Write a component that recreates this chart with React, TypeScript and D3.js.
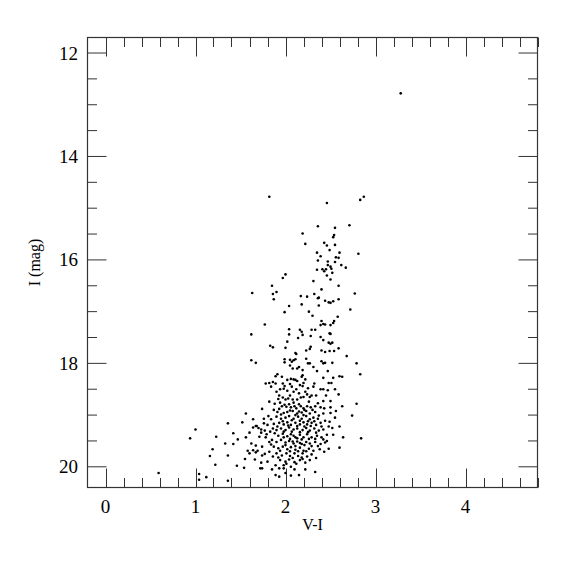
import React, { useEffect, useRef } from "react";
import * as d3 from "d3";

// [V-I, I] pairs
const giantBranch: [number, number][] = [
  [3.28, 12.78], [1.82, 14.78], [2.46, 14.9], [2.83, 14.84], [2.87, 14.78], [2.36, 15.35], [2.55, 15.38],
  [2.71, 15.33], [2.19, 15.49], [2.54, 15.52], [2.53, 15.56], [2.22, 15.69], [2.43, 15.67], [2.46, 15.72],
  [2.55, 15.71], [2.49, 15.81], [2.35, 15.86], [2.6, 15.86], [2.81, 15.88], [2.39, 15.93], [2.56, 15.95],
  [2.59, 15.96], [2.36, 16.01], [2.47, 16.03], [2.55, 16.04], [2.47, 16.1], [2.5, 16.13], [2.51, 16.17],
  [2.62, 16.1], [2.67, 16.15], [2.35, 16.19], [2.41, 16.18], [2.45, 16.18], [2.43, 16.22], [2.52, 16.25],
  [2.46, 16.3], [2.0, 16.28], [1.97, 16.35], [2.5, 16.38], [2.31, 16.41], [1.85, 16.5], [2.59, 16.5],
  [2.4, 16.57], [1.9, 16.62], [1.86, 16.66], [1.63, 16.64], [2.17, 16.7], [2.24, 16.71], [2.32, 16.66],
  [2.37, 16.73], [2.36, 16.74], [2.77, 16.65], [1.87, 16.76], [2.59, 16.76], [2.44, 16.79], [2.48, 16.82],
  [2.5, 16.83], [2.53, 16.8], [2.04, 16.89], [2.18, 16.86], [2.37, 16.88], [2.72, 16.96],
];

const midBranch: [number, number][] = [
  [1.99, 17.01], [2.26, 17.0], [2.3, 17.08], [2.58, 17.1], [2.4, 17.18], [2.42, 17.24], [2.44, 17.25],
  [2.5, 17.26], [2.53, 17.22], [2.54, 17.18], [2.39, 17.26], [2.04, 17.34], [2.04, 17.44], [2.16, 17.35],
  [2.18, 17.39], [2.19, 17.45], [2.29, 17.35], [2.33, 17.35], [2.49, 17.42], [2.5, 17.43], [2.28, 17.47],
  [2.39, 17.49], [2.02, 17.58], [2.14, 17.51], [2.42, 17.55], [2.48, 17.6], [2.5, 17.62], [2.52, 17.6],
  [1.86, 17.69], [2.0, 17.7], [2.23, 17.75], [2.27, 17.72], [2.28, 17.68], [2.4, 17.75], [2.44, 17.78],
  [2.49, 17.76], [2.54, 17.76], [2.59, 17.71], [2.11, 17.8], [2.12, 17.82], [2.68, 17.86], [2.79, 18.0],
  [2.83, 18.21], [1.99, 17.92], [1.99, 17.98], [2.05, 17.93], [2.07, 17.97], [2.09, 17.94], [2.11, 17.92],
  [2.05, 18.04], [2.08, 18.1], [2.13, 18.1], [2.15, 18.07], [2.23, 17.91], [2.25, 18.0], [2.27, 18.0],
  [2.31, 18.07], [2.35, 18.15], [2.4, 17.96], [2.42, 18.0], [2.44, 17.99], [2.47, 18.15], [2.52, 17.99],
  [2.19, 18.13], [2.53, 18.28], [2.6, 18.25], [2.63, 18.26], [2.42, 18.28], [1.89, 18.25], [1.91, 18.21],
  [1.96, 18.26], [2.02, 18.32], [2.06, 18.3], [2.09, 18.31], [2.11, 18.32], [2.13, 18.34], [2.18, 18.26],
  [2.19, 18.23], [2.22, 18.31],
];

const blueStars: [number, number][] = [
  [1.77, 17.25], [1.62, 17.44], [1.83, 17.66], [1.62, 17.94], [1.67, 17.99], [1.78, 18.39], [1.82, 18.38],
  [1.82, 18.74], [1.74, 18.88], [1.56, 18.97], [1.81, 19.02], [1.76, 19.07], [1.36, 19.16], [1.52, 19.14],
  [1.64, 19.08], [1.8, 19.19], [1.76, 19.16], [1.67, 19.21], [1.68, 19.21], [1.64, 19.24], [1.7, 19.25],
  [1.73, 19.28], [1.77, 19.3], [1.0, 19.28], [0.94, 19.45], [1.42, 19.35], [1.6, 19.34], [1.73, 19.34],
  [1.79, 19.37], [1.23, 19.42], [1.56, 19.43], [1.71, 19.42], [1.78, 19.43], [1.47, 19.47], [1.82, 19.52],
  [1.33, 19.55], [1.42, 19.56], [1.62, 19.55], [1.67, 19.59], [1.74, 19.61], [1.19, 19.66], [1.58, 19.69],
  [1.64, 19.68], [1.69, 19.69], [1.67, 19.72], [1.6, 19.74], [1.82, 19.71], [1.77, 19.75], [1.16, 19.79],
  [1.36, 19.78], [1.74, 19.78], [1.55, 19.85], [1.66, 19.86], [1.22, 19.96], [1.73, 19.92], [1.46, 19.98],
  [1.54, 20.02], [1.72, 20.03], [1.74, 20.03], [1.04, 20.14], [1.04, 20.25], [1.12, 20.2], [1.36, 20.27],
  [0.59, 20.12],
];

const clump: [number, number][] = [
  [1.86, 18.36], [1.89, 18.39], [1.97, 18.39], [1.99, 18.44], [2.05, 18.4], [2.16, 18.42], [2.19, 18.44],
  [2.31, 18.45], [2.39, 18.5], [2.42, 18.5], [2.47, 18.52], [2.48, 18.38], [2.51, 18.38], [1.98, 18.49],
  [2.02, 18.53], [2.09, 18.55], [2.12, 18.5], [1.9, 18.55], [1.94, 18.5], [2.22, 18.55], [2.24, 18.6],
  [2.2, 18.65], [2.27, 18.65], [2.29, 18.62], [2.59, 18.6], [1.97, 18.66], [2.0, 18.7], [2.03, 18.68],
  [2.08, 18.7], [2.13, 18.7], [2.42, 18.73], [2.5, 18.73], [2.63, 18.83], [2.79, 18.78], [1.88, 18.78],
  [1.94, 18.76], [1.96, 18.83], [2.01, 18.84], [2.04, 18.79], [2.06, 18.85], [2.1, 18.83], [2.12, 18.87],
  [2.17, 18.83], [2.2, 18.87], [2.24, 18.83], [2.28, 18.85], [2.33, 18.83], [2.39, 18.85], [2.43, 18.87],
  [2.5, 18.85], [1.87, 18.9], [1.91, 18.94], [1.98, 18.96], [2.02, 18.94], [2.08, 18.92], [2.13, 18.97],
  [2.18, 18.95], [2.23, 18.92], [2.27, 18.97], [2.33, 18.94], [2.42, 18.97], [2.5, 18.96], [2.74, 19.01],
  [1.9, 19.03], [1.95, 19.07], [2.0, 19.05], [2.04, 19.02], [2.09, 19.07], [2.14, 19.03], [2.18, 19.07],
  [2.23, 19.02], [2.27, 19.08], [2.31, 19.05], [2.36, 19.07], [2.44, 19.11], [2.49, 19.13], [1.84, 19.08],
  [1.87, 19.17], [1.93, 19.15], [1.98, 19.18], [2.02, 19.14], [2.06, 19.19], [2.11, 19.15], [2.16, 19.18],
  [2.2, 19.14], [2.24, 19.18], [2.29, 19.15], [2.34, 19.19], [2.39, 19.15], [2.48, 19.22], [2.6, 19.22],
  [1.86, 19.26], [1.9, 19.29], [1.95, 19.26], [2.0, 19.29], [2.04, 19.24], [2.09, 19.28], [2.13, 19.26],
  [2.19, 19.29], [2.23, 19.25], [2.27, 19.3], [2.32, 19.26], [2.37, 19.3], [2.42, 19.28], [2.53, 19.38],
  [2.64, 19.43], [2.84, 19.45], [1.88, 19.35], [1.92, 19.4], [1.97, 19.36], [2.02, 19.41], [2.06, 19.37],
  [2.11, 19.43], [2.16, 19.38], [2.2, 19.43], [2.24, 19.37], [2.29, 19.43], [2.35, 19.4], [2.4, 19.43],
  [2.46, 19.38], [1.85, 19.48], [1.9, 19.52], [1.95, 19.48], [2.0, 19.53], [2.04, 19.5], [2.09, 19.55],
  [2.13, 19.51], [2.18, 19.56], [2.23, 19.52], [2.27, 19.55], [2.33, 19.52], [2.39, 19.56], [2.44, 19.53],
  [2.6, 19.63], [1.87, 19.61], [1.92, 19.64], [1.97, 19.61], [2.02, 19.66], [2.06, 19.62], [2.11, 19.67],
  [2.16, 19.63], [2.2, 19.69], [2.26, 19.65], [2.31, 19.69], [2.38, 19.66], [2.43, 19.71], [1.9, 19.74],
  [1.96, 19.78], [2.01, 19.74], [2.05, 19.79], [2.1, 19.74], [2.14, 19.79], [2.19, 19.74], [2.24, 19.8],
  [2.29, 19.76], [1.94, 19.87], [2.0, 19.9], [2.04, 19.86], [2.1, 19.91], [2.16, 19.87], [2.27, 19.87],
  [1.98, 19.97], [2.01, 19.94], [2.12, 19.94], [1.89, 19.97], [1.93, 20.03], [1.98, 20.03], [2.0, 20.12],
  [1.89, 20.16], [1.93, 20.19], [2.15, 20.16], [2.33, 20.1],
];

// the densest part of the clump, read between the rows above
const clumpCore: [number, number][] = [
  [2.07, 18.45], [2.25, 18.48], [2.15, 18.58], [2.34, 18.62], [2.05, 18.62], [2.17, 18.66], [1.92, 18.69],
  [2.26, 18.74], [2.09, 18.76], [2.36, 18.77], [2.15, 18.79], [1.99, 18.8], [2.21, 18.9], [2.05, 18.91],
  [2.15, 18.93], [2.3, 18.9], [1.95, 18.99], [2.11, 19.0], [2.2, 19.0], [2.37, 19.01], [2.07, 19.1],
  [2.16, 19.11], [2.25, 19.12], [1.97, 19.12], [2.32, 19.12], [2.03, 19.2], [2.13, 19.21], [2.21, 19.22],
  [2.28, 19.21], [2.4, 19.22], [1.91, 19.22], [2.07, 19.32], [2.16, 19.33], [2.25, 19.33], [1.98, 19.32],
  [2.34, 19.34], [2.09, 19.4], [2.18, 19.47], [2.13, 19.45], [2.26, 19.46], [2.05, 19.46], [1.98, 19.43],
  [2.33, 19.46], [2.42, 19.47], [2.08, 19.51], [2.16, 19.54], [2.21, 19.58], [2.11, 19.6], [2.0, 19.58],
  [2.29, 19.6], [2.36, 19.6], [2.05, 19.7], [2.14, 19.7], [2.23, 19.7], [1.94, 19.69], [2.18, 19.82],
  [2.08, 19.83], [2.22, 19.92], [2.06, 20.0], [2.19, 19.85], [1.92, 19.82], [2.34, 19.83], [2.46, 19.5],
  [2.48, 19.65], [2.52, 19.25], [2.55, 19.05], [2.56, 18.92], [2.45, 18.62], [2.55, 18.5], [2.32, 18.39],
  [2.2, 18.38], [1.93, 18.62], [1.84, 18.45], [1.93, 18.88], [1.83, 19.32], [1.84, 19.57], [1.86, 19.8],
  [1.8, 19.9], [1.85, 20.05], [2.1, 20.05], [2.22, 20.05], [2.06, 20.17],
];

const xTicks = [0, 1, 2, 3, 4];
const yTicks = [12, 14, 16, 18, 20];

const W = 575;
const H = 575;
const frame = { left: 87.5, right: 537.5, top: 37.5, bottom: 487.5 };

export default function App() {
  const ref = useRef<SVGSVGElement>(null);

  useEffect(() => {
    const svg = d3.select(ref.current);
    svg.selectAll("*").remove();

    const x = d3.scaleLinear().domain([-0.2, 4.8]).range([frame.left, frame.right]);
    const y = d3.scaleLinear().domain([11.7, 20.4]).range([frame.top, frame.bottom]);

    const ink = "#333";
    const font = "'Liberation Serif', 'DejaVu Serif', serif";

    // minor + major ticks on all four sides, pointing inwards
    const xMinor = d3.range(0, 4.81, 0.2).map((v) => +v.toFixed(1));
    const yMinor = d3.range(12, 20.41, 0.5);
    const ticks = svg.append("g").attr("stroke", ink).attr("stroke-width", 1);

    xMinor.forEach((v) => {
      const len = xTicks.includes(v) ? 19 : 9.5;
      const px = Math.round(x(v)) + 0.5;
      ticks.append("line").attr("x1", px).attr("x2", px).attr("y1", frame.bottom).attr("y2", frame.bottom - len);
      ticks.append("line").attr("x1", px).attr("x2", px).attr("y1", frame.top).attr("y2", frame.top + len);
    });
    yMinor.forEach((v) => {
      const len = yTicks.includes(v) ? 19 : 9.5;
      ticks.append("line").attr("x1", frame.left).attr("x2", frame.left + len).attr("y1", y(v)).attr("y2", y(v));
      ticks.append("line").attr("x1", frame.right).attr("x2", frame.right - len).attr("y1", y(v)).attr("y2", y(v));
    });

    svg
      .append("rect")
      .attr("x", frame.left)
      .attr("y", frame.top)
      .attr("width", frame.right - frame.left)
      .attr("height", frame.bottom - frame.top)
      .attr("fill", "none")
      .attr("stroke", ink)
      .attr("stroke-width", 1.2);

    // tick labels
    svg
      .append("g")
      .selectAll("text")
      .data(xTicks)
      .join("text")
      .attr("x", (d) => x(d))
      .attr("y", 513)
      .attr("text-anchor", "middle")
      .style("font-family", font)
      .style("font-size", "19px")
      .text((d) => d);

    svg
      .append("g")
      .selectAll("text")
      .data(yTicks)
      .join("text")
      .attr("x", 78)
      .attr("y", (d) => y(d) + 6.5)
      .attr("text-anchor", "end")
      .style("font-family", font)
      .style("font-size", "19px")
      .text((d) => d);

    // axis titles
    svg
      .append("text")
      .attr("x", (frame.left + frame.right) / 2)
      .attr("y", 530)
      .attr("text-anchor", "middle")
      .style("font-family", font)
      .style("font-size", "16px")
      .text("V-I");

    svg
      .append("text")
      .attr("transform", `translate(40, ${(frame.top + frame.bottom) / 2}) rotate(-90)`)
      .attr("text-anchor", "middle")
      .style("font-family", font)
      .style("font-size", "16px")
      .text("I (mag)");

    // stars
    const stars = [...giantBranch, ...midBranch, ...blueStars, ...clump, ...clumpCore];
    svg
      .append("g")
      .selectAll("circle")
      .data(stars)
      .join("circle")
      .attr("cx", (d) => x(d[0]))
      .attr("cy", (d) => y(d[1]))
      .attr("r", 1.3)
      .attr("fill", "#000");
  }, []);

  return (
    <svg
      ref={ref}
      width={W}
      height={H}
      style={{ position: "absolute", left: 0, top: 0, background: "#fff" }}
    />
  );
}
